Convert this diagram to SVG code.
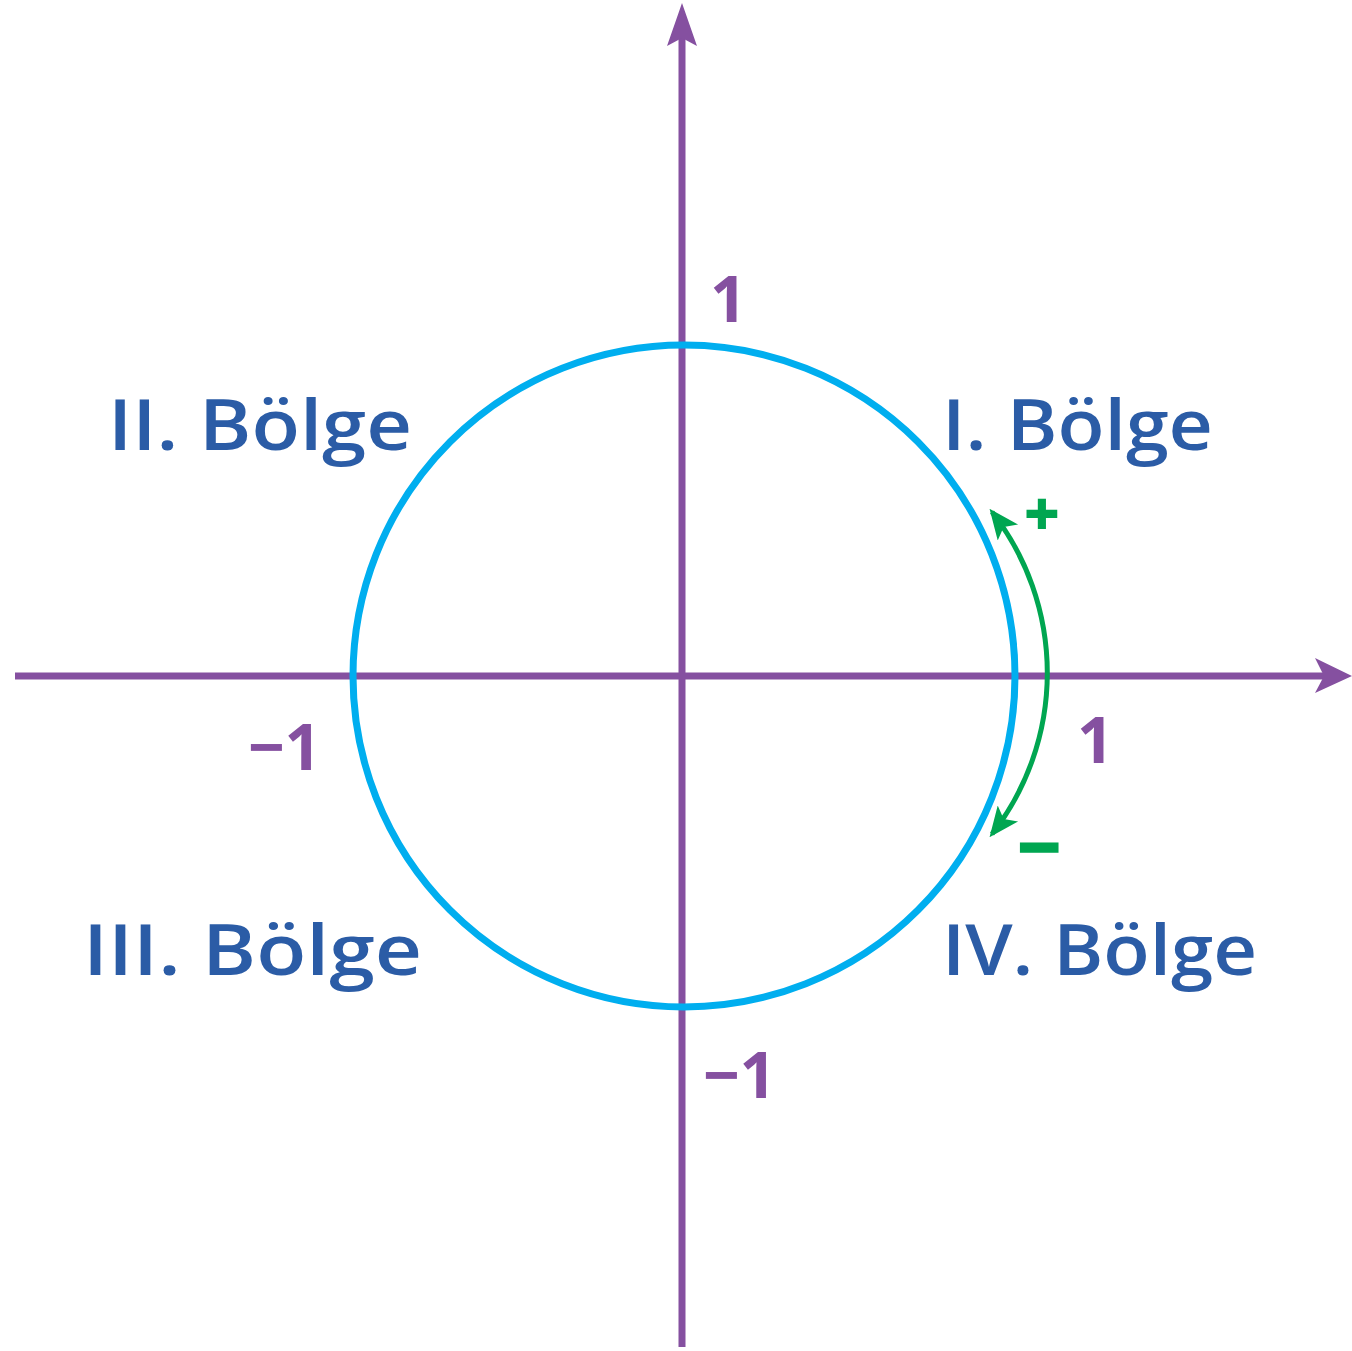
<svg xmlns="http://www.w3.org/2000/svg" width="1352" height="1351" viewBox="0 0 1352 1351">
  <style>
    .axis { stroke: #8550a0; stroke-width: 7; fill: none; }
    .label { font-family: "Open Sans", "Liberation Sans", sans-serif; font-weight: 600; fill: #2b5ca6; font-size: 70px; }
    .num { font-family: "Open Sans", "Liberation Sans", sans-serif; font-weight: 700; fill: #8550a0; font-size: 64px; }
    .sign { font-family: "Open Sans", "Liberation Sans", sans-serif; font-weight: 800; fill: #00a651; font-size: 78px; }
  </style>
  <defs>
    <marker id="greenHead" viewBox="0 0 30 26" refX="26" refY="13" markerWidth="30" markerHeight="26" markerUnits="userSpaceOnUse" orient="auto-start-reverse">
      <path d="M0,0 L30,13 L0,26 L7,13 Z" fill="#00a651"/>
    </marker>
  </defs>
  <rect width="1352" height="1351" fill="#ffffff"/>
  <g id="connectors">
    <line class="axis" x1="15" y1="676" x2="1325" y2="676"/>
    <path d="M1352,676 L1315,658 L1324,676 L1315,693 Z" fill="#8550a0"/>
    <line class="axis" x1="682" y1="1347" x2="682" y2="35"/>
    <path d="M682,3 L667,46 L682,38 L697,46 Z" fill="#8550a0"/>
    <path d="M992,512 A262,262 0 0 1 992,834" fill="none" stroke="#00a651" stroke-width="5" marker-start="url(#greenHead)" marker-end="url(#greenHead)"/>
  </g>
  <g id="unit-circle">
    <circle cx="684" cy="676" r="331" fill="none" stroke="#00aeef" stroke-width="7"/>
  </g>
  <g id="quadrant-1"><text class="label" x="942" y="450" textLength="271" lengthAdjust="spacingAndGlyphs">I. Bölge</text></g>
  <g id="quadrant-2"><text class="label" x="108" y="450" textLength="304" lengthAdjust="spacingAndGlyphs">II. Bölge</text></g>
  <g id="quadrant-3"><text class="label" x="83" y="975" textLength="339" lengthAdjust="spacingAndGlyphs">III. Bölge</text></g>
  <g id="quadrant-4"><text class="label" x="942" y="975" textLength="315" lengthAdjust="spacingAndGlyphs">IV. Bölge</text></g>
  <g id="tick-top"><text class="num" x="710" y="322">1</text></g>
  <g id="tick-left"><text class="num" x="248" y="770">−1</text></g>
  <g id="tick-right"><text class="num" x="1077" y="763">1</text></g>
  <g id="tick-bottom"><text class="num" x="703" y="1098">−1</text></g>
  <g id="sign-plus"><text class="sign" x="1042" y="536" text-anchor="middle" style="font-size:62px">+</text></g>
  <g id="sign-minus"><text class="sign" x="1039" y="875" text-anchor="middle">−</text></g>
</svg>
